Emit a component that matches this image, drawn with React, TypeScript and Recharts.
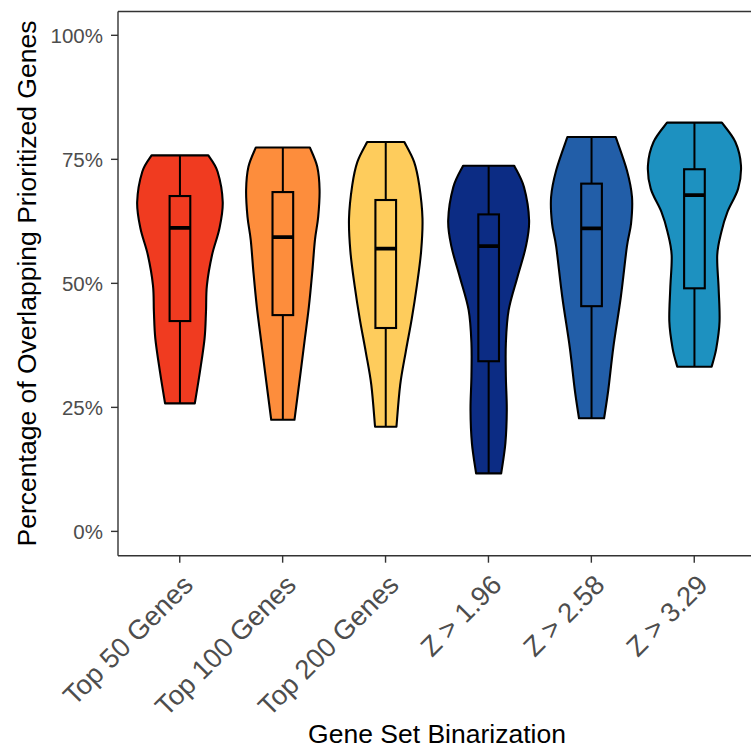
import React from 'react';
import { ComposedChart, Bar, XAxis, YAxis, ReferenceLine } from 'recharts';

const categories = ['Top 50 Genes', 'Top 100 Genes', 'Top 200 Genes', 'Z > 1.96', 'Z > 2.58', 'Z > 3.29'];
const fillColors = ['#F03B20', '#FD8D3C', '#FECC5C', '#0C2C84', '#225EA8', '#1D91C0'];

const minValues = [25.8, 22.5, 21.1, 11.7, 22.8, 33.2];
const maxValues = [75.8, 77.4, 78.5, 73.7, 79.5, 82.4];
const q1Values = [42.4, 43.6, 41.0, 34.3, 45.4, 49.0];
const medianValues = [61.2, 59.3, 57.0, 57.5, 61.1, 67.8];
const q3Values = [67.6, 68.4, 66.8, 63.9, 70.1, 73.0];

// [value %, relative density width]
const densityTop50 = [[75.8, 0.61], [72.5, 0.81], [66.4, 0.92], [61.1, 0.85], [55.7, 0.69], [49.6, 0.58], [44.3, 0.56], [38.9, 0.53], [32.2, 0.43], [25.8, 0.32]];
const densityTop100 = [[77.4, 0.58], [73.5, 0.74], [68.8, 0.79], [63.4, 0.76], [58.7, 0.69], [52.0, 0.63], [45.3, 0.56], [38.6, 0.47], [31.9, 0.38], [22.5, 0.25]];
const densityTop200 = [[78.5, 0.40], [74.5, 0.61], [69.8, 0.72], [63.1, 0.79], [56.4, 0.76], [49.6, 0.67], [42.9, 0.56], [36.2, 0.43], [29.5, 0.31], [21.1, 0.23]];
const densityZ196 = [[73.7, 0.55], [69.4, 0.76], [62.7, 0.87], [57.4, 0.80], [51.3, 0.62], [44.6, 0.43], [37.9, 0.37], [31.2, 0.37], [24.5, 0.39], [17.8, 0.36], [11.7, 0.27]];
const densityZ258 = [[79.5, 0.52], [72.8, 0.76], [67.4, 0.87], [62.1, 0.85], [57.4, 0.76], [47.3, 0.63], [37.2, 0.47], [28.5, 0.36], [22.8, 0.27]];
const densityZ329 = [[82.4, 0.59], [78.5, 0.88], [73.8, 1.0], [69.1, 0.94], [64.4, 0.71], [60.4, 0.58], [55.7, 0.49], [49.0, 0.52], [42.3, 0.54], [36.9, 0.47], [33.2, 0.37]];

const densities = [densityTop50, densityTop100, densityTop200, densityZ196, densityZ258, densityZ329];

const yTicks = [0, 25, 50, 75, 100];
const yDomain: [number, number] = [-4.9, 104.8];

const data = categories.map((name, i) => ({
  name,
  range: [minValues[i], maxValues[i]],
  idx: i,
}));

const FONT = '"Liberation Sans", Arial, Helvetica, sans-serif';
const BOX_RATIO = 0.2 / 0.9;

type Pt = [number, number];

function splinePath(pts: Pt[]): string {
  let d = '';
  for (let i = 0; i < pts.length - 1; i++) {
    const p0 = pts[i - 1] || pts[i];
    const p1 = pts[i];
    const p2 = pts[i + 1];
    const p3 = pts[i + 2] || pts[i + 1];
    const c1x = p1[0] + (p2[0] - p0[0]) / 6;
    const c1y = p1[1] + (p2[1] - p0[1]) / 6;
    const c2x = p2[0] - (p3[0] - p1[0]) / 6;
    const c2y = p2[1] - (p3[1] - p1[1]) / 6;
    d += ` C ${c1x} ${c1y} ${c2x} ${c2y} ${p2[0]} ${p2[1]}`;
  }
  return d;
}

const ViolinShape = (props: any) => {
  const { x, y, width, height, payload } = props;
  const i = payload.idx;
  const vMin = payload.range[0];
  const vMax = payload.range[1];
  const top = Math.min(y, y + height);
  const bottom = Math.max(y, y + height);
  const toY = (v: number) => top + ((vMax - v) / (vMax - vMin)) * (bottom - top);
  const cx = x + width / 2;
  const half = width / 2;
  const dens = densities[i];
  const right: Pt[] = dens.map(([v, w]) => [cx + w * half, toY(v)]);
  const left: Pt[] = dens.map(([v, w]) => [cx - w * half, toY(v)] as Pt).reverse();
  const d =
    `M ${left[left.length - 1][0]} ${left[left.length - 1][1]} L ${right[0][0]} ${right[0][1]}` +
    splinePath(right) +
    ` L ${left[0][0]} ${left[0][1]}` +
    splinePath(left) +
    ' Z';
  const bw = width * BOX_RATIO;
  const yQ1 = toY(q1Values[i]);
  const yQ3 = toY(q3Values[i]);
  const yMed = toY(medianValues[i]);
  const color = fillColors[i];
  return (
    <g>
      <path d={d} fill={color} stroke="#000" strokeWidth={2.1} strokeLinejoin="round" />
      <line x1={cx} x2={cx} y1={toY(vMax)} y2={yQ3} stroke="#000" strokeWidth={2} />
      <line x1={cx} x2={cx} y1={yQ1} y2={toY(vMin)} stroke="#000" strokeWidth={2} />
      <rect x={cx - bw / 2} y={yQ3} width={bw} height={yQ1 - yQ3} fill={color} stroke="#000" strokeWidth={2.1} />
      <line x1={cx - bw / 2} x2={cx + bw / 2} y1={yMed} y2={yMed} stroke="#000" strokeWidth={3.8} />
    </g>
  );
};

const XTick = (props: any) => {
  const { x, y, payload } = props;
  const ax = x + 1;
  const ay = y + 10;
  return (
    <text
      x={ax}
      y={ay}
      dy="0.72em"
      textAnchor="end"
      transform={`rotate(-45 ${ax} ${ay})`}
      fontSize={27.3}
      fill="#4D4D4D"
      fontFamily={FONT}
    >
      {payload.value}
    </text>
  );
};

export default function App() {
  return (
    <div style={{ position: 'fixed', left: 0, top: 0, width: 751, height: 748, overflow: 'hidden', background: '#fff' }}>
      <ComposedChart width={756} height={748} data={data} margin={{ top: 11.5, right: 0, bottom: 0, left: 0 }} barCategoryGap="5%">
        <XAxis
          dataKey="name"
          type="category"
          interval={0}
          padding={{ left: 10.3, right: 10.3 }}
          height={192.3}
          tickSize={7}
          tickMargin={0}
          axisLine={{ stroke: '#333', strokeWidth: 1.4 }}
          tickLine={{ stroke: '#333', strokeWidth: 1.4 }}
          tick={<XTick />}
        />
        <YAxis
          type="number"
          domain={yDomain}
          ticks={yTicks}
          width={118}
          tickSize={7}
          tickMargin={8}
          tickFormatter={(v: number) => `${v}%`}
          axisLine={{ stroke: '#333', strokeWidth: 1.4 }}
          tickLine={{ stroke: '#333', strokeWidth: 1.4 }}
          tick={{ fontSize: 20.5, fill: '#4D4D4D', fontFamily: FONT }}
          allowDataOverflow
        />
        <ReferenceLine y={yDomain[1]} stroke="#333" strokeWidth={1.4} />
        <Bar dataKey="range" isAnimationActive={false} shape={<ViolinShape />} />
      </ComposedChart>
      <svg width={751} height={748} style={{ position: 'absolute', left: 0, top: 0, pointerEvents: 'none' }}>
        <text x={437} y={743} textAnchor="middle" fontSize={26.5} fill="#000" fontFamily={FONT}>
          Gene Set Binarization
        </text>
        <text x={36.3} y={283.5} textAnchor="middle" fontSize={26.5} fill="#000" fontFamily={FONT} transform="rotate(-90 36.3 283.5)">
          Percentage of Overlapping Prioritized Genes
        </text>
      </svg>
    </div>
  );
}
